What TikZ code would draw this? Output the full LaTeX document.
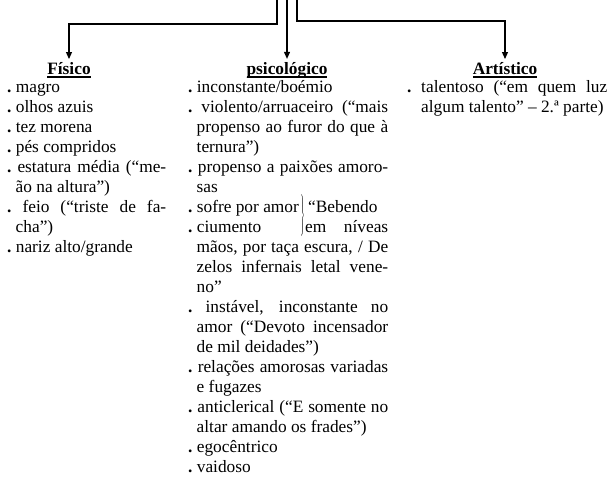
\documentclass[tikz,border=0pt]{standalone}
\usepackage{fontspec}
\setmainfont{Liberation Serif}
\usetikzlibrary{arrows.meta,positioning}
\tikzset{
  head/.style = {font=\fontsize{17.33}{20}\selectfont\bfseries, inner sep=3pt},
  col/.style  = {anchor=north west, inner sep=0pt, text width=#1, align=justify,
                 font=\fontsize{17.33}{20}\selectfont,
                 execute at begin node={\parindent=0pt\hyphenpenalty=10000
                   \exhyphenpenalty=10000\tolerance=10000}},
  sig/.style  = {-{Triangle[length=7pt,width=6pt]}, line width=1.1pt},
}
\newcommand{\headline}[1]{\setbox0\hbox{#1}\rlap{\rule[-3.5pt]{\wd0}{1.3pt}}\box0}
\newcommand{\justpar}{\par\leftskip=0pt\rightskip=0pt\parfillskip=0pt plus 1fil\noindent}
\newcommand{\itm}[1][8.5pt]{\justpar\hangindent=#1\hangafter=1 \strut\textbf{.}\ \ignorespaces}
\newcommand{\bracemark}{\hspace{1pt}\smash{\raisebox{-8pt}{\scalebox{0.5}[1]{$\left.\vrule height 16pt depth 16pt width 0pt\right\}$}}}}

\begin{document}
\begin{tikzpicture}[x=1pt,y=-1pt]
\useasboundingbox (0,0) rectangle (612,481);
% ---- headings ----
\node[head] (fis) at (69,70) {\headline{Físico}};
\node[head] (psi) at (287,70) {\headline{psicológico}};
\node[head] (art) at (505,70) {\headline{Artístico}};
% ---- connectors from the top edge ----
\coordinate (topL) at (277,0);
\coordinate (topM) at (287,0);
\coordinate (topR) at (297,0);
\draw[sig] (topL) -- ++(0,24) -| (fis);
\draw[sig] (topM) -- (psi);
\draw[sig] (topR) -- ++(0,21) -| (art);
% ---- Físico ----
\node[col=159pt] (fislist) at (7,72) {%
\itm magro
\itm olhos azuis
\itm tez morena
\itm pés compridos
\itm estatura média (“me-\linebreak ão na altura”)
\itm feio (“triste de fa-\linebreak cha”)
\itm nariz alto/grande\par};
% ---- psicológico ----
\node[col=200pt] (psilist) at (188,72) {%
\itm inconstante/boémio
\itm violento/arruaceiro (“mais\linebreak propenso ao furor do que à\linebreak ternura”)
\itm propenso a paixões amoro-\linebreak sas
\justpar\parshape 5 117pt 83pt 117pt 83pt 8.5pt 191.5pt 8.5pt 191.5pt 8.5pt 191.5pt
\llap{\makebox[117pt][l]{\strut\textbf{.}\ sofre por amor\bracemark}}\hspace*{3pt}“Bebendo\linebreak
\llap{\makebox[117pt][l]{\textbf{.}\ ciumento}}em níveas\linebreak
mãos, por taça escura, / De\linebreak zelos infernais letal vene-\linebreak no”
\itm instável, inconstante no\linebreak amor (“Devoto incensador\linebreak de mil deidades”)
\itm relações amorosas variadas\linebreak e fugazes
\itm anticlerical (“E somente no\linebreak altar amando os frades”)
\itm egocêntrico
\itm vaidoso\par};
% ---- Artístico ----
\node[col=200pt] (artlist) at (407,72) {%
\itm[14pt] talentoso (“em quem luz\linebreak algum talento” – 2.ª parte)\par};
\end{tikzpicture}
\end{document}
